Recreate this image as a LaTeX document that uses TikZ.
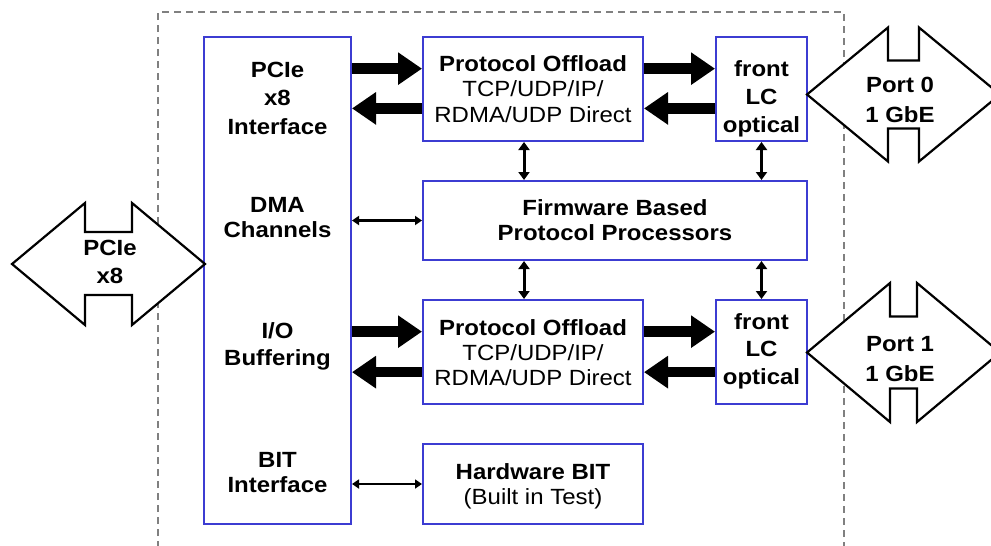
\documentclass[tikz,border=0pt]{standalone}
\usepackage{fontspec}
\setmainfont{Liberation Sans}[FakeStretch=1.09]
\usetikzlibrary{arrows.meta,calc}
\definecolor{boxblue}{RGB}{60,60,210}
\definecolor{dashgray}{RGB}{128,128,128}
\begin{document}
\begin{tikzpicture}[x=1pt,y=-1pt,
  box/.style={draw=boxblue,line width=2pt,fill=white,inner sep=0pt},
  txt/.style={align=center,inner sep=0pt,anchor=base},
  bigarrow/.style={line width=10.5pt,-{Triangle[length=24pt,width=31pt]}},
  varrow/.style={line width=3pt,{Triangle[length=8pt,width=11pt]}-{Triangle[length=8pt,width=11pt]}},
  harrow/.style={line width=2.4pt,{Triangle[length=7pt,width=9pt]}-{Triangle[length=7pt,width=9pt]}},
  dashbox/.style={draw=dashgray,line width=1.6pt,dash pattern=on 7pt off 5pt},
  bigshape/.style={draw=black,fill=white,line width=2.2pt,line join=miter}]
\useasboundingbox (0,0) rectangle (991,546);
% outer dashed enclosure
\draw[dashbox] (158,560) -- (158,12) -- (844,12) -- (844,560);
% boxes
\node[box,minimum width=147pt,minimum height=487pt] (main) at (277.5,280.5) {};
\node[box,minimum width=220pt,minimum height=104pt] (po0) at (533,89) {};
\node[box,minimum width=91pt,minimum height=104pt] (lc0) at (761.5,89) {};
\node[box,minimum width=384pt,minimum height=79pt] (fw) at (615,220.5) {};
\node[box,minimum width=220pt,minimum height=104pt] (po1) at (533,352) {};
\node[box,minimum width=91pt,minimum height=104pt] (lc1) at (761.5,352) {};
\node[box,minimum width=220pt,minimum height=80pt] (hb) at (533,484) {};
% labels (anchor = baseline of the last line)
\node[txt,font=\fontsize{22}{28.5}\selectfont\bfseries] (pcieif) at (277.5,134) {PCIe\\x8\\Interface};
\node[txt,font=\fontsize{22}{25}\selectfont\bfseries] (dma) at (277.5,237) {DMA\\Channels};
\node[txt,font=\fontsize{22}{27}\selectfont\bfseries] (iobuf) at (277.5,365) {I/O\\Buffering};
\node[txt,font=\fontsize{22}{25}\selectfont\bfseries] (bitif) at (277.5,492) {BIT\\Interface};
\node[txt,font=\fontsize{22}{25.5}\selectfont] (po0t) at (533,122) {\bfseries Protocol Offload\\TCP/UDP/IP/\\RDMA/UDP Direct};
\node[txt,font=\fontsize{22}{28}\selectfont\bfseries] (lc0t) at (761.5,132) {front\\LC\\optical};
\node[txt,font=\fontsize{22}{25}\selectfont\bfseries] (fwt) at (615,240.5) {Firmware Based\\Protocol Processors};
\node[txt,font=\fontsize{22}{25}\selectfont] (po1t) at (533,385) {\bfseries Protocol Offload\\TCP/UDP/IP/\\RDMA/UDP Direct};
\node[txt,font=\fontsize{22}{27.5}\selectfont\bfseries] (lc1t) at (761.5,384) {front\\LC\\optical};
\node[txt,font=\fontsize{22}{25}\selectfont] (hbt) at (533,504) {\bfseries Hardware BIT\\(Built in Test)};
% double-arrow shapes
\draw[bigshape] (12,264) -- (85,203) -- (85,232) -- (132,232) -- (132,203) -- (205,264)
  -- (132,325) -- (132,295) -- (85,295) -- (85,325) -- cycle;
\node[txt,font=\fontsize{22}{28}\selectfont\bfseries] (pciet) at (110,283) {PCIe\\x8};
\draw[bigshape] (807,94.5) -- (888,27.5) -- (888,60.5) -- (919,60.5) -- (919,27.5) -- (1000,94.5)
  -- (919,161.5) -- (919,128.5) -- (888,128.5) -- (888,161.5) -- cycle;
\node[txt,font=\fontsize{22}{30}\selectfont\bfseries] (port0) at (900,122) {Port 0\\1 GbE};
\draw[bigshape] (807,352.5) -- (890,283) -- (890,316.5) -- (917,316.5) -- (917,283) -- (1000,352.5)
  -- (917,422) -- (917,388.5) -- (890,388.5) -- (890,422) -- cycle;
\node[txt,font=\fontsize{22}{30}\selectfont\bfseries] (port1) at (900,381) {Port 1\\1 GbE};
% thick data arrows
\coordinate (po0a) at ($(po0.north west)!0.308!(po0.south west)$);
\coordinate (po0b) at ($(po0.north west)!0.683!(po0.south west)$);
\coordinate (po1a) at ($(po1.north west)!0.308!(po1.south west)$);
\coordinate (po1b) at ($(po1.north west)!0.69!(po1.south west)$);
\draw[bigarrow] (main.east |- po0a) -- (po0a);
\draw[bigarrow] (po0b) -- (main.east |- po0b);
\draw[bigarrow] (po0.east |- po0a) -- (lc0.west |- po0a);
\draw[bigarrow] (lc0.west |- po0b) -- (po0.east |- po0b);
\draw[bigarrow] (main.east |- po1a) -- (po1a);
\draw[bigarrow] (po1b) -- (main.east |- po1b);
\draw[bigarrow] (po1.east |- po1a) -- (lc1.west |- po1a);
\draw[bigarrow] (lc1.west |- po1b) -- (po1.east |- po1b);
% vertical links to firmware
\coordinate (v0) at ([xshift=-9pt]po0.south);
\coordinate (v1) at ([xshift=-9pt]po1.north);
\draw[varrow] (v0) -- (v0 |- fw.north);
\draw[varrow] (lc0.south) -- (lc0.south |- fw.north);
\draw[varrow] (v1 |- fw.south) -- (v1);
\draw[varrow] (lc1.north |- fw.south) -- (lc1.north);
% thin horizontal links
\draw[harrow] (main.east |- fw.west) -- (fw.west);
\draw[harrow] (main.east |- hb.west) -- (hb.west);
\end{tikzpicture}
\end{document}
